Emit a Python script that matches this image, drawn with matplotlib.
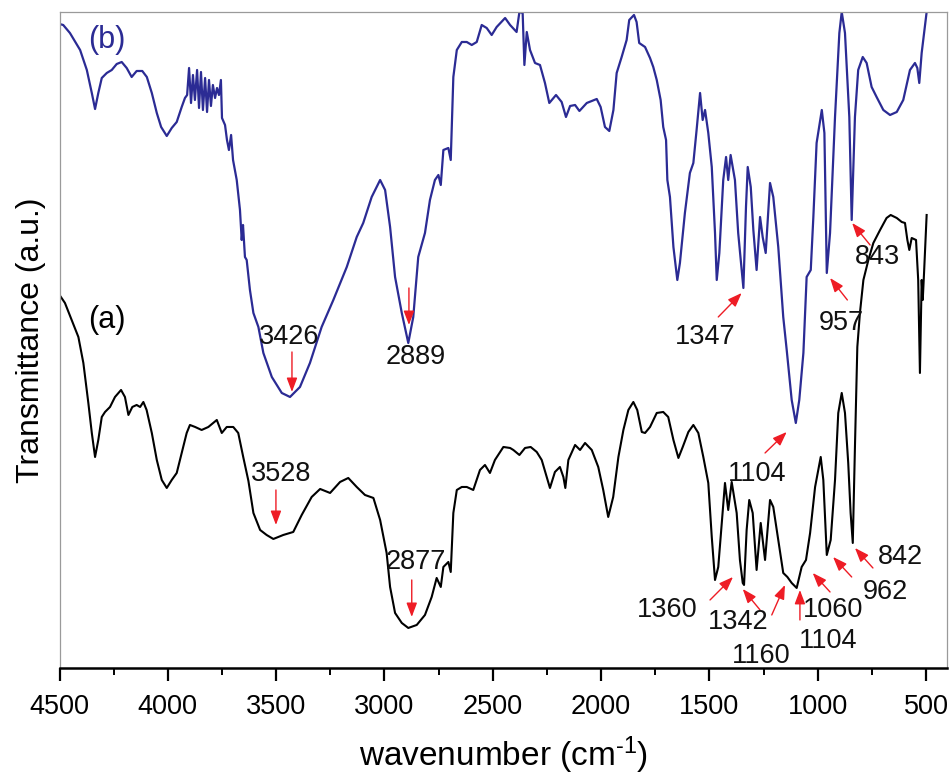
import numpy as np
import matplotlib
matplotlib.use("Agg")
import matplotlib.pyplot as plt
from matplotlib.ticker import MultipleLocator

plt.rcParams['font.family'] = ['Liberation Sans', 'DejaVu Sans']
plt.rcParams['mathtext.fontset'] = 'custom'
plt.rcParams['mathtext.rm'] = 'Liberation Sans'
plt.rcParams['mathtext.it'] = 'Liberation Sans:italic'

# spectrum (b) - blue (wavenumber, transmittance a.u.)
wn_b = [4500, 4483, 4452, 4405, 4374, 4351, 4336, 4321, 4305, 4282, 4259, 4236, 4213, 4190,
        4167, 4144, 4118, 4097, 4074, 4051, 4031, 4005, 3982, 3959, 3936, 3921,
        3911, 3902, 3893, 3884, 3875, 3865, 3856, 3847, 3838, 3828, 3819, 3810, 3801, 3792,
        3782, 3773, 3764, 3755, 3750, 3736, 3727, 3718, 3708, 3699, 3682, 3667, 3659, 3653,
        3644, 3636, 3621, 3605, 3582, 3559, 3520, 3474, 3436, 3390, 3344, 3290, 3236, 3174,
        3128, 3098, 3059, 3020, 2997, 2974, 2951, 2920, 2890, 2867, 2844, 2813, 2790, 2767,
        2751, 2740, 2728, 2705, 2694, 2682, 2666, 2643, 2620, 2597, 2574, 2551, 2528, 2505,
        2482, 2443, 2420, 2390, 2377, 2362, 2354, 2343, 2328, 2305, 2282, 2259, 2239, 2208,
        2182, 2162, 2143, 2120, 2100, 2066, 2020, 2002, 1982, 1962, 1943, 1928, 1905, 1882,
        1870, 1848, 1836, 1824, 1797, 1774, 1759, 1743, 1725, 1713, 1700, 1694, 1682, 1666,
        1648, 1636, 1613, 1590, 1574, 1559, 1543, 1531, 1520, 1505, 1489, 1474, 1466, 1454,
        1436, 1423, 1413, 1402, 1382, 1367, 1351, 1343, 1331, 1323, 1309, 1297, 1282, 1266,
        1254, 1240, 1220, 1205, 1182, 1159, 1143, 1120, 1101, 1085, 1066, 1051, 1032, 1020,
        1005, 981, 969, 958, 943, 920, 900, 889, 874, 854, 843, 828, 813, 792, 774, 751, 728,
        697, 666, 635, 605, 574, 551, 540, 531, 520, 509, 497, 491]
t_b = [644, 643, 635, 618, 598, 575, 559, 575, 590, 595, 598, 604, 606, 600,
       591, 597, 597, 591, 575, 555, 541, 532, 540, 546, 561, 570,
       573, 600, 565, 593, 568, 598, 560, 596, 558, 590, 556, 588, 562, 583,
       570, 580, 573, 588, 550, 543, 528, 518, 533, 508, 488, 458, 428, 443,
       411, 408, 378, 355, 341, 315, 291, 275, 271, 281, 305, 341, 368, 401,
       431, 445, 471, 488, 478, 441, 391, 355, 325, 351, 411, 435, 468, 488,
       493, 483, 518, 520, 508, 591, 618, 626, 626, 623, 626, 643, 640, 633,
       641, 650, 643, 636, 656, 655, 603, 636, 618, 605, 603, 585, 565, 573,
       566, 551, 562, 563, 557, 565, 569, 561, 541, 537, 558, 595, 611, 628,
       648, 653, 646, 625, 621, 610, 601, 588, 568, 541, 528, 488, 471, 421,
       388, 405, 455, 495, 505, 538, 575, 548, 558, 535, 501, 435, 388, 415,
       488, 511, 488, 513, 488, 435, 398, 380, 461, 501, 481, 438, 398, 451,
       431, 415, 485, 471, 421, 351, 318, 268, 245, 268, 315, 391, 398, 451,
       525, 558, 535, 395, 435, 551, 635, 656, 635, 551, 448, 551, 598, 611, 605, 581, 571,
       558, 553, 556, 568, 598, 605, 600, 585, 615, 635, 656, 673]

# spectrum (a) - black
wn_a = [4500, 4475, 4444, 4413, 4390, 4367, 4351, 4336, 4321, 4305, 4290, 4267, 4244, 4216,
        4198, 4182, 4164, 4144, 4128, 4113, 4098, 4074, 4051, 4028, 4005, 3982, 3959, 3936,
        3913, 3898, 3874, 3844, 3813, 3774, 3751, 3728, 3698, 3675, 3652, 3628, 3605, 3574,
        3544, 3513, 3467, 3421, 3382, 3336, 3297, 3251, 3205, 3167, 3128, 3090, 3051, 3020,
        2990, 2974, 2951, 2920, 2890, 2851, 2813, 2782, 2759, 2740, 2728, 2705, 2694, 2682,
        2666, 2643, 2620, 2590, 2559, 2536, 2513, 2490, 2451, 2420, 2405, 2377, 2351, 2325,
        2297, 2274, 2251, 2236, 2213, 2190, 2174, 2165, 2151, 2120, 2097, 2074, 2043, 2013,
        1990, 1967, 1944, 1920, 1897, 1874, 1851, 1833, 1812, 1797, 1774, 1743, 1713, 1690,
        1666, 1643, 1623, 1597, 1574, 1551, 1528, 1505, 1489, 1474, 1459, 1443, 1428, 1413,
        1397, 1374, 1359, 1346, 1340, 1328, 1316, 1300, 1282, 1263, 1243, 1220, 1205, 1182,
        1159, 1140, 1120, 1097, 1074, 1054, 1035, 1012, 986, 974, 958, 940, 920, 905, 889,
        874, 859, 848, 838, 828, 817, 805, 789, 766, 743, 712, 682, 663, 635, 612, 597, 586,
        577, 566, 546, 536, 528, 520, 515, 509, 497]
t_a = [373, 365, 348, 331, 305, 265, 235, 211, 228, 251, 256, 261, 271, 278,
       271, 253, 261, 263, 261, 266, 258, 235, 208, 188, 180, 188, 195, 215,
       235, 243, 241, 238, 241, 248, 235, 241, 241, 235, 211, 187, 155, 138,
       133, 129, 133, 136, 153, 171, 179, 175, 186, 190, 181, 173, 170, 148,
       115, 81, 55, 45, 40, 43, 53, 71, 90, 81, 101, 106, 96, 155,
       178, 181, 181, 178, 198, 203, 195, 208, 221, 220, 218, 213, 220, 221,
       216, 208, 191, 180, 196, 201, 191, 180, 208, 223, 218, 225, 218, 201,
       178, 151, 171, 211, 238, 258, 266, 258, 236, 235, 241, 255, 256, 251,
       228, 210, 221, 236, 243, 235, 211, 185, 131, 88, 101, 145, 185, 158,
       186, 155, 108, 85, 83, 138, 168, 155, 98, 145, 108, 168, 161, 128,
       95, 91, 85, 80, 101, 108, 135, 181, 211, 188, 113, 128, 188, 255, 275,
       255, 205, 155, 125, 221, 321, 355, 388, 408, 425, 438, 450, 453, 450, 446, 445, 428,
       418, 430, 428, 388, 295, 388, 368, 395, 453]

# peak labels: text, arrow tip, arrow tail, text position
peak_labels = ['3426', '2889', '1347', '957', '843', '1104',
               '3528', '2877', '1360', '1342', '1160', '1104', '1060', '962', '842']
arrow_tips = [(3427, 276), (2887, 343), (1351, 375), (943, 390), (841, 445), (1143, 236),
              (3501, 143), (2874, 51), (1391, 91), (1346, 79), (1151, 83), (1082, 78),
              (1023, 95), (929, 111), (828, 120)]
arrow_tails = [(3427, 316), (2887, 380), (1459, 351), (863, 368), (758, 423), (1243, 215),
               (3501, 178), (2874, 88), (1497, 68), (1266, 58), (1212, 53), (1082, 48),
               (943, 76), (843, 91), (745, 100)]
text_pos = [(3441, 331), (2854, 311), (1520, 331), (892, 345), (722, 411), (1280, 194),
            (3478, 194), (2854, 106), (1696, 58), (1368, 46), (1262, 12), (952, 27),
            (929, 58), (689, 76), (620, 111)]

fig = plt.figure(figsize=(9.51, 7.74), dpi=100)
ax = fig.add_axes([0.0626, 0.137, 0.9332, 0.8475])

ax.plot(wn_b, t_b, color='#2b2b94', lw=1.6)
ax.plot(wn_a, t_a, color='black', lw=1.5)

for lab, tip, tail, tp in zip(peak_labels, arrow_tips, arrow_tails, text_pos):
    ax.annotate('', xy=tip, xytext=tail,
                arrowprops=dict(arrowstyle='-|>,head_length=0.85,head_width=0.32',
                                color='#ee1c25', lw=1.0, mutation_scale=10,
                                shrinkA=0, shrinkB=0))
    ax.text(tp[0], tp[1], lab, fontsize=19.5, ha='center', va='center', color='#111111')

ax.text(4281, 628, '(b)', fontsize=22, ha='center', va='center', color='#2b2b94')
ax.text(4281, 348, '(a)', fontsize=22, ha='center', va='center', color='black')

ax.set_xlim(4500, 403)
ax.set_ylim(0, 656)
ax.xaxis.set_major_locator(MultipleLocator(500))
ax.xaxis.set_minor_locator(MultipleLocator(250))
ax.set_yticks([])
ax.tick_params(axis='x', which='major', direction='out', length=9, width=1.6,
               labelsize=19.5, pad=10)
ax.tick_params(axis='x', which='minor', direction='out', length=5, width=1.4)
ax.tick_params(top=False, right=False, left=False)

for s in ['left', 'top', 'right']:
    ax.spines[s].set_color('#9a9a9a')
    ax.spines[s].set_linewidth(0.9)
ax.spines['bottom'].set_linewidth(1.8)

ax.set_xlabel(r'wavenumber (cm$^{\text{-}1}$)', fontsize=24, labelpad=10)
ax.set_ylabel('Transmittance (a.u.)', fontsize=23, labelpad=10)

fig.savefig('out.png', dpi=100)
